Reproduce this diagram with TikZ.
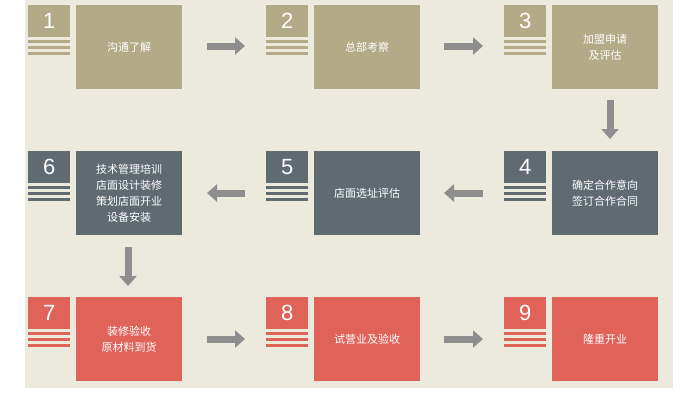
\documentclass[tikz,border=0pt]{standalone}
\usepackage{fontspec}
\setmainfont{Liberation Sans}
\newfontfamily\cjk{Noto Sans CJK SC}
\usetikzlibrary{arrows.meta}
\definecolor{olv}{HTML}{B3AB88}
\definecolor{slt}{HTML}{5F6B71}
\definecolor{rd}{HTML}{E0635A}
\definecolor{bg}{HTML}{ECEADC}
\definecolor{arr}{HTML}{8E8E8E}
\begin{document}
\begin{tikzpicture}[x=1pt,y=-1pt,
  mainbox/.style={minimum width=106pt,minimum height=84pt,inner sep=0pt,text=white,font=\cjk\fontsize{11}{16}\selectfont,align=center,anchor=north west},
  numbox/.style={minimum width=42pt,minimum height=32pt,inner sep=0pt,text=white,font=\fontsize{22}{22}\selectfont,anchor=north west},
  flow/.style={draw=arr,line width=7pt,-{Triangle[length=10pt,width=17pt]}}]
\useasboundingbox (0,0) rectangle (692,400);
\fill[white] (0,0) rectangle (692,400);
\fill[bg] (25,0) rectangle (673,388);
\newcommand{\stp}[6]{% name, x of num, y, colour, digit, text
  \node[numbox,fill=#4] (n#1) at (#2,#3) {#5};
  \foreach \d in {35,41,47}{\fill[#4] (#2,#3+\d) rectangle ++(42,2.5);}
  \node[mainbox,fill=#4] (#1) at (#2+48,#3) {#6};
}
\stp{s1}{28}{5}{olv}{1}{沟通了解}
\stp{s2}{266}{5}{olv}{2}{总部考察}
\stp{s3}{504}{5}{olv}{3}{加盟申请\\及评估}
\stp{s6}{28}{151}{slt}{6}{技术管理培训\\店面设计装修\\策划店面开业\\设备安装}
\stp{s5}{266}{151}{slt}{5}{店面选址评估}
\stp{s4}{504}{151}{slt}{4}{确定合作意向\\签订合作合同}
\stp{s7}{28}{297}{rd}{7}{装修验收\\原材料到货}
\stp{s8}{266}{297}{rd}{8}{试营业及验收}
\stp{s9}{504}{297}{rd}{9}{隆重开业}
\coordinate (a1) at (207,46); \coordinate (b1) at (245,46);
\draw[flow] (a1) -- (b1);
\coordinate (a2) at (444,46); \coordinate (b2) at (483,46);
\draw[flow] (a2) -- (b2);
\coordinate (a3) at (610,100); \coordinate (b3) at (610,139);
\draw[flow] (a3) -- (b3);
\coordinate (a4) at (483,193); \coordinate (b4) at (444,193);
\draw[flow] (a4) -- (b4);
\coordinate (a5) at (245,193); \coordinate (b5) at (207,193);
\draw[flow] (a5) -- (b5);
\coordinate (a6) at (128,247); \coordinate (b6) at (128,286);
\draw[flow] (a6) -- (b6);
\coordinate (a7) at (207,339); \coordinate (b7) at (245,339);
\draw[flow] (a7) -- (b7);
\coordinate (a8) at (444,339); \coordinate (b8) at (483,339);
\draw[flow] (a8) -- (b8);
\end{tikzpicture}
\end{document}
